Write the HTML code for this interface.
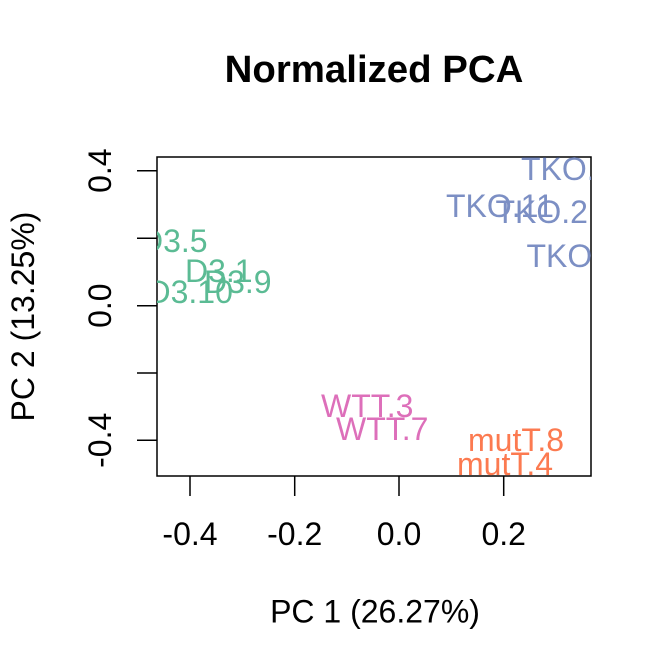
<!DOCTYPE html>
<html>
<head>
<meta charset="utf-8">
<style>
  html,body{margin:0;padding:0;background:#fff;}
  svg{display:block;}
  text{font-family:"Liberation Sans",Arial,sans-serif;}
</style>
</head>
<body>
<svg width="672" height="672" viewBox="0 0 672 672" xmlns="http://www.w3.org/2000/svg">
  <rect x="0" y="0" width="672" height="672" fill="#fff"/>
  <defs>
    <clipPath id="plot">
      <rect x="157" y="157" width="434" height="319"/>
    </clipPath>
  </defs>

  <!-- title -->
  <text x="374" y="82" font-size="38.4" font-weight="bold" text-anchor="middle" fill="#000">Normalized PCA</text>

  <!-- plot box -->
  <rect x="157" y="157" width="434" height="319" fill="none" stroke="#000" stroke-width="1.5"/>

  <!-- x ticks -->
  <g stroke="#000" stroke-width="1.5">
    <line x1="190" y1="476" x2="190" y2="496"/>
    <line x1="294.7" y1="476" x2="294.7" y2="496"/>
    <line x1="399" y1="476" x2="399" y2="496"/>
    <line x1="503.7" y1="476" x2="503.7" y2="496"/>
  </g>
  <g font-size="32" text-anchor="middle" fill="#000">
    <text x="190" y="545">-0.4</text>
    <text x="294.7" y="545">-0.2</text>
    <text x="399" y="545">0.0</text>
    <text x="503.7" y="545">0.2</text>
  </g>

  <!-- y ticks -->
  <g stroke="#000" stroke-width="1.5">
    <line x1="137" y1="170.7" x2="157" y2="170.7"/>
    <line x1="137" y1="238.2" x2="157" y2="238.2"/>
    <line x1="137" y1="305.7" x2="157" y2="305.7"/>
    <line x1="137" y1="373" x2="157" y2="373"/>
    <line x1="137" y1="440.3" x2="157" y2="440.3"/>
  </g>
  <g font-size="32" text-anchor="middle" fill="#000">
    <text transform="translate(111,170.7) rotate(-90)">0.4</text>
    <text transform="translate(111,305.7) rotate(-90)">0.0</text>
    <text transform="translate(111,440.3) rotate(-90)">-0.4</text>
  </g>

  <!-- axis labels -->
  <text x="375" y="622.5" font-size="32" text-anchor="middle" fill="#000">PC 1 (26.27%)</text>
  <text transform="translate(34,316.5) rotate(-90)" font-size="32" text-anchor="middle" fill="#000">PC 2 (13.25%)</text>

  <!-- point labels -->
  <g clip-path="url(#plot)" font-size="32">
    <g fill="#5BBB94">
      <text x="140" y="252">D3.5</text>
      <text x="185" y="282">D3.1</text>
      <text x="204" y="293">D3.9</text>
      <text x="147.5" y="303">D3.10</text>
    </g>
    <g fill="#7C8FC4">
      <text x="521" y="180">TKO.6</text>
      <text x="446" y="217">TKO.11</text>
      <text x="495.5" y="223">TKO.2</text>
      <text x="526.5" y="267">TKO.1</text>
    </g>
    <g fill="#DD6FBA">
      <text x="321" y="417">WTT.3</text>
      <text x="336" y="440">WTT.7</text>
    </g>
    <g fill="#FC7A50">
      <text x="468" y="451">mutT.8</text>
      <text x="457" y="475">mutT.4</text>
    </g>
  </g>
</svg>
</body>
</html>
